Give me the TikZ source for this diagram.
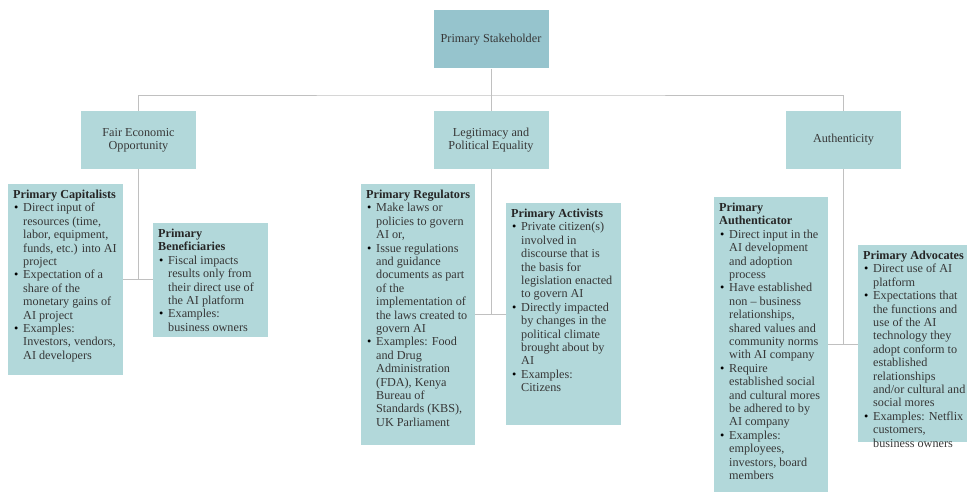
\documentclass[tikz,border=0pt]{standalone}
\usepackage{fontspec}
\setmainfont{Liberation Serif}
\usepackage{tikz}
\usetikzlibrary{calc}
\definecolor{deepteal}{RGB}{150,196,205}
\definecolor{paleteal}{RGB}{178,216,218}
\definecolor{wiregray}{RGB}{192,192,192}
\definecolor{inkgray}{RGB}{55,55,55}
\newcommand{\itm}{\par\hangindent=10pt\hangafter=1\noindent\makebox[10pt][l]{\hspace{1pt}\textcolor{black}{\textbullet}}}
\newcommand{\cardtext}[3]{\makebox[#2][l]{\parbox[t][#1][t]{140pt}{\raggedright\let\\\newline\strut #3}}}
\newcommand{\hd}[1]{\textbf{\color{black!85}#1}}

\begin{document}
\begin{tikzpicture}[x=1pt,y=-1pt,font=\fontsize{12.2}{13.4}\selectfont]
\tikzstyle{topic}=[fill=paleteal,text=inkgray,minimum width=115pt,minimum height=58pt,align=center,inner sep=2pt]
\tikzstyle{card}=[fill=paleteal,text=inkgray,anchor=north west,inner sep=5pt]
\tikzstyle{wire}=[draw=wiregray,line width=0.8pt]

\useasboundingbox (0,0) rectangle (967,492);

% stakeholder and the three values
\node(0)[topic,fill=deepteal] at (491,39.5) {Primary Stakeholder};
\node(1)[topic] at (138.5,140) {Fair Economic\\Opportunity};
\node(2)[topic] at (491,140) {Legitimacy and\\Political Equality};
\node(3)[topic] at (843.5,140) {Authenticity};

% fair economic opportunity
\node(1a)[card] at (8,184) {\cardtext{181pt}{105pt}{\hd{Primary Capitalists}
  \itm Direct input of\\ resources (time,\\ labor, equipment,\\ funds, etc.) into AI\\ project
  \itm Expectation of a\\ share of the\\ monetary gains of\\ AI project
  \itm Examples:\\ Investors, vendors,\\ AI developers}};
\node(1b)[card] at (153,223) {\cardtext{104pt}{105pt}{\hd{Primary\\ Beneficiaries}
  \itm Fiscal impacts\\ results only from\\ their direct use of\\ the AI platform
  \itm Examples:\\ business owners}};

% legitimacy and political equality
\node(2a)[card] at (361,184) {\cardtext{251pt}{104pt}{\hd{Primary Regulators}
  \itm Make laws or\\ policies to govern\\ AI or,
  \itm Issue regulations\\ and guidance\\ documents as part\\ of the\\ implementation of\\ the laws created to\\ govern AI
  \itm Examples: Food\\ and Drug\\ Administration\\ (FDA), Kenya\\ Bureau of\\ Standards (KBS),\\ UK Parliament}};
\node(2b)[card] at (506,203) {\cardtext{212pt}{105pt}{\hd{Primary Activists}
  \itm Private citizen(s)\\ involved in\\ discourse that is\\ the basis for\\ legislation enacted\\ to govern AI
  \itm Directly impacted\\ by changes in the\\ political climate\\ brought about by\\ AI
  \itm Examples:\\ Citizens}};

% authenticity
\node(3a)[card] at (714,197) {\cardtext{285pt}{104pt}{\hd{Primary\\ Authenticator}
  \itm Direct input in the\\ AI development\\ and adoption\\ process
  \itm Have established\\ non -- business\\ relationships,\\ shared values and\\ community norms\\ with AI company
  \itm Require\\ established social\\ and cultural mores\\ be adhered to by\\ AI company
  \itm Examples:\\ employees,\\ investors, board\\ members}};
\node(3b)[card] at (858,245) {\cardtext{187pt}{105pt}{\hd{Primary Advocates}
  \itm Direct use of AI\\ platform
  \itm Expectations that\\ the functions and\\ use of the AI\\ technology they\\ adopt conform to\\ established\\ relationships\\ and/or cultural and\\ social mores
  \itm Examples: Netflix\\ customers,\\ business owners}};

% connectors
\coordinate (bus) at (491,95);
\draw[wire] (0.south) -- (2.north);
\draw[wire] (1.north) |- (bus) -| (3.north);
\draw[wire] (1.south) -- (1.south |- 1a.east);
\draw[wire] (1a.east) -- (1a.east -| 1b.west);
\draw[wire] (2.south) -- (2.south |- 2a.east);
\draw[wire] (2a.east) -- (2a.east -| 2b.west);
\draw[wire] (3.south) -- (3.south |- 3a.east);
\draw[wire] (3a.east) -- (3a.east -| 3b.west);

\end{tikzpicture}
\end{document}
